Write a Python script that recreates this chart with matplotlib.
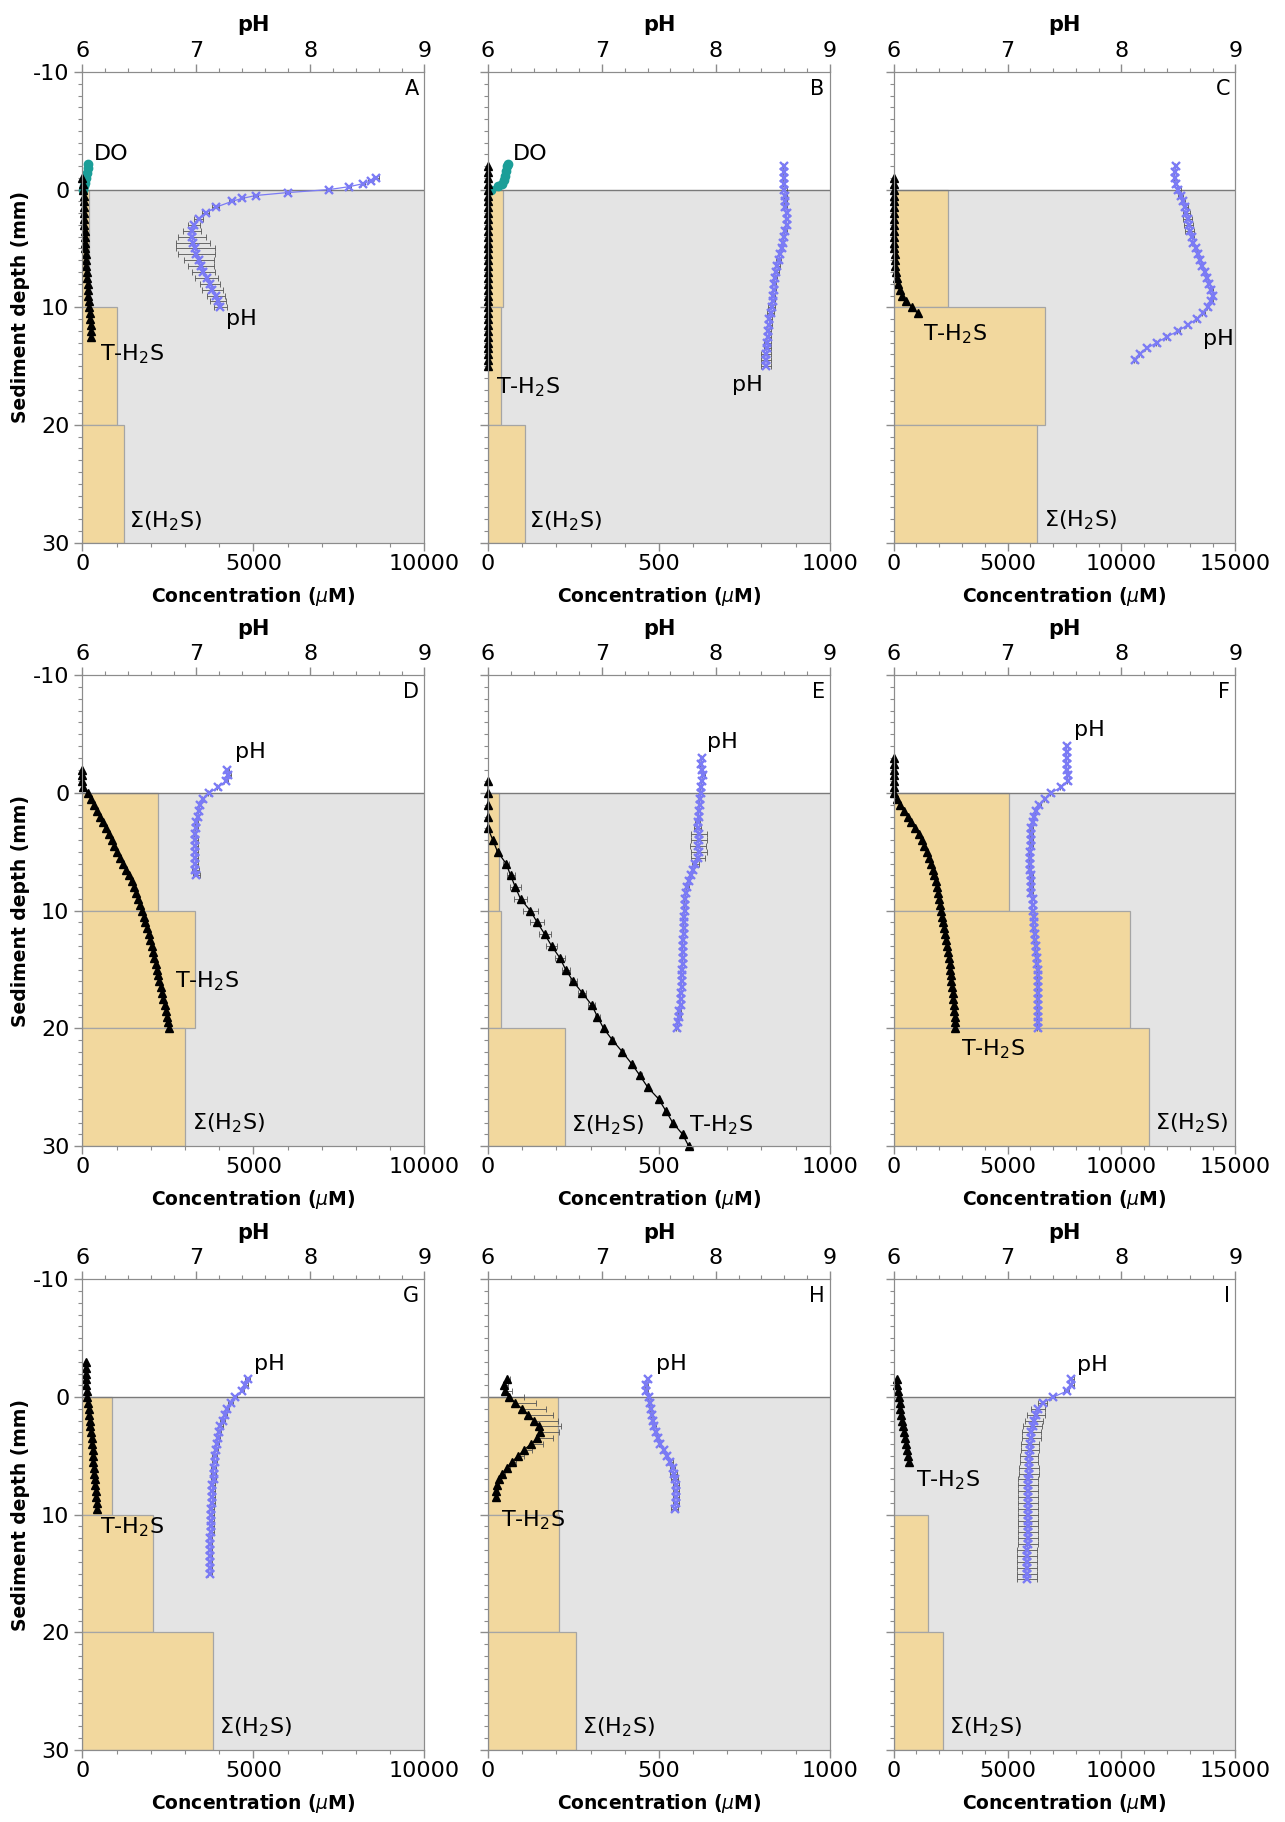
import matplotlib
matplotlib.use("Agg")
import matplotlib.pyplot as plt
from matplotlib.ticker import MultipleLocator

plt.rcParams['font.family'] = ['DejaVu Sans']
plt.rcParams['axes.unicode_minus'] = False

# core slices for sum(H2S), top of each slice in mm
slice_top = [0, 10, 20]

# ---------------- A ----------------
a_do_depth = [-2.2, -1.8, -1.4, -1.0, -0.6, -0.3, 0.0]
a_do_conc = [160, 150, 130, 110, 80, 50, 20]
a_th2s_depth = [-1.0, -0.5, 0.0, 0.5, 1.0, 1.5, 2.0, 2.5, 3.0, 3.5, 4.0, 4.5, 5.0, 5.5,
                6.0, 6.5, 7.0, 7.5, 8.0, 8.5, 9.0, 9.5, 10.0, 10.5, 11.0, 11.5, 12.0, 12.5]
a_th2s = [0, 5, 20, 30, 35, 40, 45, 50, 55, 60, 65, 70, 80, 90,
          100, 110, 125, 140, 150, 160, 175, 190, 200, 215, 230, 240, 250, 260]
a_sum = [180, 1000, 1200]
a_ph_depth = [-1.0, -0.75, -0.5, -0.25, 0.0, 0.25, 0.5, 0.75, 1.0, 1.5, 2.0, 2.5, 3.0, 3.5,
              4.0, 4.5, 5.0, 5.5, 6.0, 6.5, 7.0, 7.5, 8.0, 8.5, 9.0, 9.5, 10.0]
a_ph = [8.58, 8.53, 8.46, 8.34, 8.16, 7.80, 7.52, 7.40, 7.31, 7.17, 7.08, 7.02, 6.98, 6.96,
        6.96, 6.97, 6.99, 7.00, 7.02, 7.04, 7.06, 7.09, 7.12, 7.14, 7.17, 7.19, 7.21]
a_ph_err = [0.02, 0.02, 0.02, 0.02, 0.02, 0.02, 0.02, 0.02, 0.02, 0.03, 0.03, 0.04, 0.05, 0.08,
            0.12, 0.15, 0.17, 0.16, 0.13, 0.11, 0.10, 0.10, 0.09, 0.09, 0.08, 0.07, 0.06]

# ---------------- B ----------------
b_do_depth = [-2.2, -2.0, -1.6, -1.2, -0.8, -0.5, -0.3, 0.0]
b_do_conc = [58, 56, 53, 51, 48, 40, 30, 8]
b_th2s_depth = [-2.0, -1.5, -1.0, -0.5, 0.0, 0.5, 1.0, 1.5, 2.0, 2.5, 3.0, 3.5, 4.0, 4.5,
                5.0, 5.5, 6.0, 6.5, 7.0, 7.5, 8.0, 8.5, 9.0, 9.5, 10.0, 10.5, 11.0, 11.5,
                12.0, 12.5, 13.0, 13.5, 14.0, 14.5, 15.0]
b_th2s = [1, 1, 1, 1, 1, 1, 0, 1, 0, 0, 1, 0, 0, 1,
          0, 0, 1, 0, 0, 1, 0, 0, 1, 0, 0, 1, 0, 0,
          1, 0, 0, 1, 0, 0, 1]
b_sum = [44, 37, 108]
b_ph_depth = b_th2s_depth
b_ph = [8.60, 8.60, 8.60, 8.60, 8.60, 8.61, 8.61, 8.61, 8.62, 8.62, 8.62, 8.61, 8.60, 8.59,
        8.58, 8.56, 8.55, 8.54, 8.53, 8.52, 8.51, 8.51, 8.50, 8.50, 8.49, 8.48, 8.47, 8.47,
        8.46, 8.46, 8.45, 8.45, 8.44, 8.44, 8.44]
b_ph_err = [0.01, 0.01, 0.01, 0.01, 0.02, 0.01, 0.01, 0.01, 0.01, 0.01, 0.01, 0.01, 0.01, 0.01,
            0.01, 0.01, 0.02, 0.02, 0.02, 0.02, 0.02, 0.02, 0.02, 0.02, 0.03, 0.03, 0.02, 0.02,
            0.02, 0.02, 0.03, 0.03, 0.04, 0.04, 0.04]

# ---------------- C ----------------
c_th2s_depth = [-1.0, -0.5, 0.0, 0.5, 1.0, 1.5, 2.0, 2.5, 3.0, 3.5, 4.0, 4.5, 5.0, 5.5,
                6.0, 6.5, 7.0, 7.5, 8.0, 8.5, 9.0, 9.5, 10.0, 10.5]
c_th2s = [0, 0, 5, 10, 10, 15, 15, 20, 20, 25, 25, 30, 35, 40,
          50, 70, 100, 140, 190, 260, 380, 560, 800, 1050]
c_sum = [2370, 6650, 6300]
c_ph_depth = [-2.0, -1.5, -1.0, -0.5, 0.0, 0.5, 1.0, 1.5, 2.0, 2.5, 3.0, 3.5, 4.0, 4.5,
              5.0, 5.5, 6.0, 6.5, 7.0, 7.5, 8.0, 8.5, 9.0, 9.5, 10.0, 10.5, 11.0, 11.5,
              12.0, 12.5, 13.0, 13.5, 14.0, 14.5]
c_ph = [8.48, 8.47, 8.47, 8.48, 8.50, 8.52, 8.54, 8.56, 8.57, 8.58, 8.59, 8.60, 8.62, 8.63,
        8.65, 8.67, 8.69, 8.71, 8.73, 8.75, 8.77, 8.79, 8.80, 8.79, 8.76, 8.72, 8.66, 8.58,
        8.50, 8.40, 8.31, 8.22, 8.16, 8.12]
c_ph_err = [0.01, 0.01, 0.01, 0.01, 0.02, 0.02, 0.02, 0.02, 0.03, 0.04, 0.04, 0.04, 0.02, 0.01,
            0.01, 0.01, 0.01, 0.01, 0.01, 0.01, 0.01, 0.01, 0.01, 0.01, 0.01, 0.01, 0.01, 0.01,
            0.01, 0.01, 0.01, 0.01, 0.01, 0.01]

# ---------------- D ----------------
d_th2s_depth = [-2.0, -1.5, -1.0, -0.5, 0.0, 0.5, 1.0, 1.5, 2.0, 2.5, 3.0, 3.5, 4.0, 4.5,
                5.0, 5.5, 6.0, 6.5, 7.0, 7.5, 8.0, 8.5, 9.0, 9.5, 10.0, 10.5, 11.0, 11.5,
                12.0, 12.5, 13.0, 13.5, 14.0, 14.5, 15.0, 15.5, 16.0, 16.5, 17.0, 17.5,
                18.0, 18.5, 19.0, 19.5, 20.0]
d_th2s = [0, 0, 0, 20, 150, 250, 340, 425, 510, 595, 680, 765, 850, 930,
          1010, 1100, 1190, 1275, 1360, 1435, 1510, 1570, 1630, 1685, 1740, 1790, 1840, 1890,
          1935, 1980, 2020, 2060, 2100, 2140, 2175, 2215, 2250, 2285, 2320, 2360,
          2400, 2435, 2470, 2505, 2540]
d_sum = [2210, 3285, 2990]
d_ph_depth = [-2.0, -1.5, -1.0, -0.5, 0.0, 0.5, 1.0, 1.5, 2.0, 2.5, 3.0, 3.5, 4.0, 4.5,
              5.0, 5.5, 6.0, 6.5, 7.0]
d_ph = [7.27, 7.28, 7.26, 7.19, 7.11, 7.06, 7.03, 7.02, 7.01, 7.00, 7.00, 6.99, 6.99, 6.99,
        6.99, 6.99, 6.99, 6.99, 7.00]
d_ph_err = [0.02, 0.02, 0.02, 0.01, 0.01, 0.01, 0.01, 0.01, 0.01, 0.01, 0.01, 0.01, 0.02, 0.02,
            0.02, 0.02, 0.02, 0.03, 0.03]

# ---------------- E ----------------
e_th2s_depth = [-1, 0, 1, 2, 3, 4, 5, 6, 7, 8, 9, 10, 11, 12, 13, 14, 15, 16,
                17, 18, 19, 20, 21, 22, 23, 24, 25, 26, 27, 28, 29, 30]
e_th2s = [0, 0, 0, 0, 0, 14, 28, 53, 66, 80, 95, 124, 144, 166, 186, 210, 227, 249,
          276, 303, 320, 338, 364, 393, 420, 444, 467, 499, 520, 540, 569, 587]
e_th2s_err = [0, 0, 0, 0, 0, 3, 5, 8, 12, 17, 18, 22, 20, 18, 15, 15, 12, 10,
              12, 10, 8, 5, 5, 5, 5, 5, 5, 5, 5, 5, 5, 5]
e_sum = [31, 37, 225]
e_ph_depth = [-3.0, -2.5, -2.0, -1.5, -1.0, -0.5, 0.0, 0.5, 1.0, 1.5, 2.0, 2.5, 3.0, 3.5,
              4.0, 4.5, 5.0, 5.5, 6.0, 6.5, 7.0, 7.5, 8.0, 8.5, 9.0, 9.5, 10.0, 10.5,
              11.0, 11.5, 12.0, 12.5, 13.0, 13.5, 14.0, 14.5, 15.0, 15.5, 16.0, 16.5,
              17.0, 17.5, 18.0, 18.5, 19.0, 19.5, 20.0]
e_ph = [7.88, 7.87, 7.88, 7.89, 7.88, 7.87, 7.87, 7.86, 7.86, 7.85, 7.85, 7.84, 7.84, 7.85,
        7.85, 7.84, 7.85, 7.84, 7.82, 7.80, 7.78, 7.76, 7.75, 7.74, 7.73, 7.73, 7.73, 7.72,
        7.72, 7.72, 7.72, 7.71, 7.71, 7.71, 7.71, 7.71, 7.70, 7.70, 7.70, 7.70,
        7.69, 7.69, 7.69, 7.68, 7.68, 7.67, 7.66]
e_ph_err = [0.01, 0.01, 0.01, 0.01, 0.01, 0.01, 0.01, 0.01, 0.01, 0.01, 0.01, 0.02, 0.03, 0.07,
            0.07, 0.07, 0.07, 0.06, 0.03, 0.01, 0.01, 0.01, 0.01, 0.01, 0.01, 0.01, 0.01, 0.01,
            0.01, 0.01, 0.01, 0.01, 0.01, 0.01, 0.01, 0.01, 0.01, 0.01, 0.01, 0.01,
            0.01, 0.01, 0.01, 0.01, 0.01, 0.01, 0.01]

# ---------------- F ----------------
f_th2s_depth = e_ph_depth
f_th2s = [0, 0, 0, 0, 0, 0, 30, 150, 280, 450, 620, 770, 930, 1100,
          1230, 1350, 1460, 1560, 1650, 1720, 1780, 1840, 1900, 1950, 2000, 2040, 2080, 2130,
          2180, 2225, 2270, 2310, 2350, 2400, 2430, 2455, 2480, 2510, 2540, 2565,
          2590, 2615, 2640, 2660, 2680, 2695, 2710]
f_sum = [5070, 10370, 11190]
f_ph_depth = [-4.0, -3.5, -3.0, -2.5, -2.0, -1.5, -1.0, -0.5, 0.0, 0.5, 1.0, 1.5, 2.0, 2.5,
              3.0, 3.5, 4.0, 4.5, 5.0, 5.5, 6.0, 6.5, 7.0, 7.5, 8.0, 8.5, 9.0, 9.5,
              10.0, 10.5, 11.0, 11.5, 12.0, 12.5, 13.0, 13.5, 14.0, 14.5, 15.0, 15.5,
              16.0, 16.5, 17.0, 17.5, 18.0, 18.5, 19.0, 19.5, 20.0]
f_ph = [7.52, 7.52, 7.52, 7.52, 7.52, 7.53, 7.53, 7.47, 7.38, 7.33, 7.28, 7.25, 7.23, 7.22,
        7.21, 7.21, 7.21, 7.21, 7.20, 7.20, 7.20, 7.20, 7.21, 7.21, 7.21, 7.21, 7.22, 7.22,
        7.22, 7.23, 7.23, 7.23, 7.24, 7.24, 7.25, 7.25, 7.26, 7.26, 7.27, 7.27,
        7.27, 7.27, 7.27, 7.27, 7.27, 7.27, 7.27, 7.27, 7.27]
f_ph_err = [0.01] * len(f_ph)

# ---------------- G ----------------
g_th2s_depth = [-3.0, -2.5, -2.0, -1.5, -1.0, -0.5, 0.0, 0.5, 1.0, 1.5, 2.0, 2.5, 3.0, 3.5,
                4.0, 4.5, 5.0, 5.5, 6.0, 6.5, 7.0, 7.5, 8.0, 8.5, 9.0, 9.5]
g_th2s = [90, 95, 100, 105, 110, 120, 140, 160, 185, 200, 215, 230, 250, 265,
          280, 295, 310, 320, 335, 350, 365, 375, 385, 395, 410, 420]
g_sum = [860, 2050, 3820]
g_ph_depth = [-1.5, -1.0, -0.5, 0.0, 0.5, 1.0, 1.5, 2.0, 2.5, 3.0, 3.5, 4.0, 4.5, 5.0,
              5.5, 6.0, 6.5, 7.0, 7.5, 8.0, 8.5, 9.0, 9.5, 10.0, 10.5, 11.0, 11.5, 12.0,
              12.5, 13.0, 13.5, 14.0, 14.5, 15.0]
g_ph = [7.45, 7.43, 7.40, 7.34, 7.30, 7.27, 7.25, 7.23, 7.21, 7.20, 7.19, 7.18, 7.17, 7.16,
        7.16, 7.15, 7.15, 7.15, 7.14, 7.14, 7.14, 7.14, 7.13, 7.13, 7.13, 7.13, 7.13, 7.12,
        7.12, 7.12, 7.12, 7.12, 7.12, 7.12]
g_ph_err = [0.02] * len(g_ph)

# ---------------- H ----------------
h_th2s_depth = [-1.5, -1.0, -0.5, 0.0, 0.5, 1.0, 1.5, 2.0, 2.5, 3.0, 3.5, 4.0, 4.5, 5.0,
                5.5, 6.0, 6.5, 7.0, 7.5, 8.0, 8.5]
h_th2s = [55, 47, 50, 61, 80, 100, 118, 135, 148, 152, 144, 125, 105, 88,
          70, 55, 42, 33, 27, 24, 22]
h_th2s_err = [10, 12, 20, 45, 60, 70, 72, 70, 65, 55, 45, 35, 25, 18,
              12, 10, 8, 6, 5, 5, 5]
h_sum = [205, 209, 258]
h_ph_depth = [-1.5, -1.0, -0.5, 0.0, 0.5, 1.0, 1.5, 2.0, 2.5, 3.0, 3.5, 4.0, 4.5, 5.0,
              5.5, 6.0, 6.5, 7.0, 7.5, 8.0, 8.5, 9.0, 9.5]
h_ph = [7.40, 7.39, 7.39, 7.41, 7.42, 7.43, 7.44, 7.45, 7.46, 7.47, 7.49, 7.51, 7.54, 7.57,
        7.60, 7.62, 7.63, 7.64, 7.65, 7.65, 7.65, 7.65, 7.64]
h_ph_err = [0.01, 0.01, 0.01, 0.01, 0.01, 0.01, 0.01, 0.01, 0.01, 0.01, 0.01, 0.01, 0.01, 0.01,
            0.02, 0.02, 0.03, 0.03, 0.03, 0.03, 0.03, 0.03, 0.03]

# ---------------- I ----------------
i_th2s_depth = [-1.5, -1.0, -0.5, 0.0, 0.5, 1.0, 1.5, 2.0, 2.5, 3.0, 3.5, 4.0, 4.5, 5.0, 5.5]
i_th2s = [140, 160, 190, 220, 260, 300, 340, 380, 420, 460, 500, 540, 590, 640, 690]
i_sum = [0, 1520, 2180]
i_ph_depth = [-1.5, -1.0, -0.5, 0.0, 0.5, 1.0, 1.5, 2.0, 2.5, 3.0, 3.5, 4.0, 4.5, 5.0,
              5.5, 6.0, 6.5, 7.0, 7.5, 8.0, 8.5, 9.0, 9.5, 10.0, 10.5, 11.0, 11.5, 12.0,
              12.5, 13.0, 13.5, 14.0, 14.5, 15.0, 15.5]
i_ph = [7.56, 7.56, 7.52, 7.40, 7.31, 7.27, 7.25, 7.23, 7.22, 7.21, 7.21, 7.20, 7.20, 7.19,
        7.19, 7.19, 7.19, 7.18, 7.18, 7.18, 7.18, 7.18, 7.18, 7.18, 7.18, 7.18, 7.18, 7.18,
        7.18, 7.17, 7.17, 7.17, 7.17, 7.17, 7.17]
i_ph_err = [0.02, 0.02, 0.02, 0.02, 0.04, 0.06, 0.08, 0.08, 0.08, 0.08, 0.08, 0.08, 0.08, 0.08,
            0.08, 0.09, 0.09, 0.09, 0.09, 0.09, 0.09, 0.09, 0.09, 0.09, 0.09, 0.09, 0.09, 0.09,
            0.09, 0.09, 0.09, 0.09, 0.09, 0.09, 0.09]

panels = [
    dict(letter='A', sums=a_sum, td=a_th2s_depth, tc=a_th2s, pd=a_ph_depth, pv=a_ph, pe=a_ph_err,
         dd=a_do_depth, dc=a_do_conc),
    dict(letter='B', sums=b_sum, td=b_th2s_depth, tc=b_th2s, pd=b_ph_depth, pv=b_ph, pe=b_ph_err,
         dd=b_do_depth, dc=b_do_conc),
    dict(letter='C', sums=c_sum, td=c_th2s_depth, tc=c_th2s, pd=c_ph_depth, pv=c_ph, pe=c_ph_err),
    dict(letter='D', sums=d_sum, td=d_th2s_depth, tc=d_th2s, pd=d_ph_depth, pv=d_ph, pe=d_ph_err),
    dict(letter='E', sums=e_sum, td=e_th2s_depth, tc=e_th2s, te=[e_th2s_err, e_th2s_err],
         pd=e_ph_depth, pv=e_ph, pe=e_ph_err),
    dict(letter='F', sums=f_sum, td=f_th2s_depth, tc=f_th2s, pd=f_ph_depth, pv=f_ph, pe=f_ph_err),
    dict(letter='G', sums=g_sum, td=g_th2s_depth, tc=g_th2s, pd=g_ph_depth, pv=g_ph, pe=g_ph_err),
    dict(letter='H', sums=h_sum, td=h_th2s_depth, tc=h_th2s, te=[[0] * len(h_th2s_err), h_th2s_err],
         pd=h_ph_depth, pv=h_ph, pe=h_ph_err),
    dict(letter='I', sums=i_sum, td=i_th2s_depth, tc=i_th2s, pd=i_ph_depth, pv=i_ph, pe=i_ph_err),
]

# label positions (concentration, depth) for each panel
label_pos = {
    'A': {'DO': (320, -3.0), 'pH': (4210, 11.0), 'T': (520, 14.0), 'S': (1350, 28.2)},
    'B': {'DO': (73, -3.0), 'pH': (713, 16.6), 'T': (23, 16.8), 'S': (121, 28.2)},
    'C': {'pH': (13580, 12.7), 'T': (1300, 12.3), 'S': (6580, 28.1)},
    'D': {'pH': (4460, -3.5), 'T': (2720, 16.0), 'S': (3190, 28.1)},
    'E': {'pH': (640, -4.3), 'T': (589, 28.2), 'S': (244, 28.2)},
    'F': {'pH': (7900, -5.4), 'T': (2960, 21.8), 'S': (11460, 28.1)},
    'G': {'pH': (5015, -2.8), 'T': (518, 11.1), 'S': (3990, 28.1)},
    'H': {'pH': (491, -2.8), 'T': (39, 10.5), 'S': (276, 28.1)},
    'I': {'pH': (8040, -2.7), 'T': (980, 7.1), 'S': (2450, 28.1)},
}

col_xmax = [10000, 1000, 15000]
col_major = [5000, 500, 5000]
col_minor = [1000, 100, 1000]

PH_C = '#7b7bf5'
DO_C = '#1b9e98'
TAN = '#f2d89e'
GREY_BG = '#e4e4e4'
SPINE = '#8c8c8c'
TICK_FS = 16
LAB_FS = 13.5
PH_LAB_FS = 15
ANN_FS = 16

fig = plt.figure(figsize=(12.85, 18.22), dpi=100)
lefts = [0.0642, 0.3798, 0.6954]
bottoms = [0.7022, 0.3710, 0.0395]
w, h = 0.2660, 0.2583

for k, p in enumerate(panels):
    r, c = divmod(k, 3)
    ax = fig.add_axes([lefts[c], bottoms[r], w, h])
    ax.set_xlim(0, col_xmax[c])
    ax.set_ylim(30, -10)
    ax.axhspan(0, 30, facecolor=GREY_BG, edgecolor='none', zorder=0)
    ax.barh(slice_top, p['sums'], height=10, align='edge', color=TAN,
            edgecolor='#a5a5a5', linewidth=0.9, zorder=1)
    ax.axhline(0, color='#7a7a7a', lw=1.0, zorder=2)

    if 'dd' in p:
        ax.plot(p['dc'], p['dd'], '-o', color=DO_C, ms=6, lw=2, clip_on=False, zorder=4)
    if 'te' in p:
        ax.errorbar(p['tc'], p['td'], xerr=p['te'], fmt='none', ecolor='#555555',
                    elinewidth=0.6, capsize=2, capthick=0.6, zorder=3)
    ax.plot(p['tc'], p['td'], '-^', color='black', ms=6, lw=0.9, clip_on=False, zorder=4)

    ax.xaxis.set_major_locator(MultipleLocator(col_major[c]))
    ax.xaxis.set_minor_locator(MultipleLocator(col_minor[c]))
    ax.yaxis.set_major_locator(MultipleLocator(10))
    ax.yaxis.set_minor_locator(MultipleLocator(1))
    ax.tick_params(which='both', direction='out', color=SPINE, labelsize=TICK_FS, right=False)
    ax.tick_params(which='major', length=6, width=1)
    ax.tick_params(which='minor', length=3, width=0.8)
    ax.tick_params(axis='x', pad=2)
    ax.set_xlabel('Concentration ($\\mu$M)', fontsize=LAB_FS, fontweight='bold', labelpad=8)
    if c == 0:
        ax.set_ylabel('Sediment depth (mm)', fontsize=LAB_FS, fontweight='bold', labelpad=2)
    else:
        ax.tick_params(labelleft=False)
    for s in ax.spines.values():
        s.set_color(SPINE)

    tw = ax.twiny()
    tw.set_xlim(6, 9)
    tw.errorbar(p['pv'], p['pd'], xerr=p['pe'], fmt='none', ecolor='#555555',
                elinewidth=0.6, capsize=2, capthick=0.6, zorder=3)
    tw.plot(p['pv'], p['pd'], '-x', color=PH_C, ms=6, mew=1.7, lw=0.9, zorder=4)
    tw.xaxis.set_major_locator(MultipleLocator(1))
    tw.xaxis.set_minor_locator(MultipleLocator(0.2))
    tw.tick_params(which='both', direction='out', color=SPINE, labelsize=TICK_FS, pad=2)
    tw.tick_params(which='major', length=6, width=1)
    tw.tick_params(which='minor', length=3, width=0.8)
    tw.set_xlabel('pH', fontsize=PH_LAB_FS, fontweight='bold', labelpad=7)
    for s in tw.spines.values():
        s.set_color(SPINE)

    lp = label_pos[p['letter']]
    if 'DO' in lp:
        ax.text(*lp['DO'], 'DO', fontsize=ANN_FS, va='center', ha='left', zorder=6)
    ax.text(*lp['pH'], 'pH', fontsize=ANN_FS, va='center', ha='left', zorder=6)
    ax.text(*lp['T'], 'T-H$_2$S', fontsize=ANN_FS, va='center', ha='left', zorder=6)
    ax.text(*lp['S'], '\u03a3(H$_2$S)', fontsize=ANN_FS, va='center', ha='left', zorder=6)
    ax.text(0.985, 0.985, p['letter'], transform=ax.transAxes, fontsize=ANN_FS - 1,
            ha='right', va='top', zorder=6)

fig.savefig('out.png', dpi=100)
